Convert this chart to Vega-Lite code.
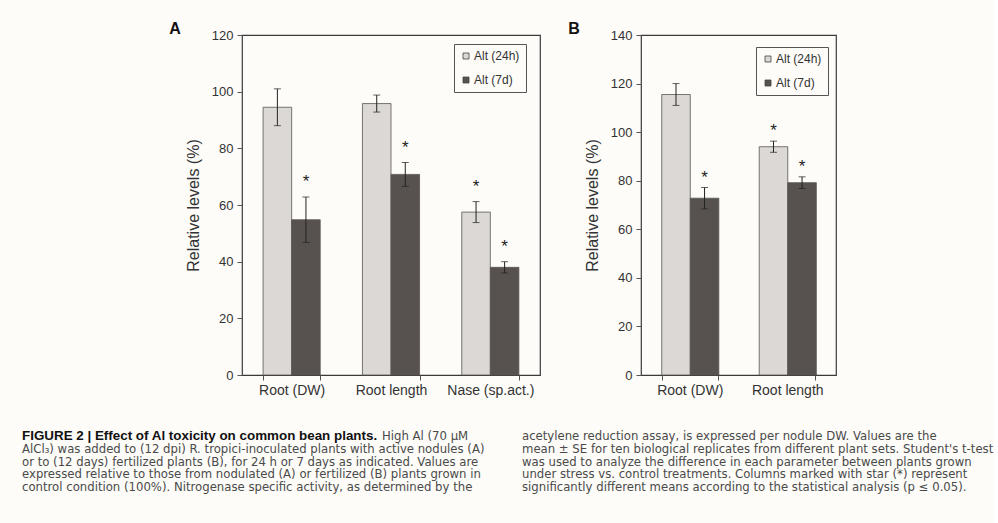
{
  "$schema": "https://vega.github.io/schema/vega-lite/v6.json",
  "background": "#fdfcf9",
  "padding": {"left": 22, "top": 20, "right": 0, "bottom": 30},
  "bounds": "flush",
  "columns": 2,
  "spacing": {"column": 101, "row": 61},
  "datasets": {
    "nodulated": [
      {"category": "Root (DW)", "series": "Alt (24h)", "value": 94.5, "lo": 88.0, "hi": 101.0, "star": ""},
      {"category": "Root (DW)", "series": "Alt (7d)", "value": 54.8, "lo": 46.8, "hi": 62.8, "star": "*"},
      {"category": "Root length", "series": "Alt (24h)", "value": 95.8, "lo": 92.8, "hi": 98.8, "star": ""},
      {"category": "Root length", "series": "Alt (7d)", "value": 70.8, "lo": 66.6, "hi": 75.0, "star": "*"},
      {"category": "Nase (sp.act.)", "series": "Alt (24h)", "value": 57.5, "lo": 53.8, "hi": 61.2, "star": "*"},
      {"category": "Nase (sp.act.)", "series": "Alt (7d)", "value": 38.0, "lo": 36.0, "hi": 40.0, "star": "*"}
    ],
    "fertilized": [
      {"category": "Root (DW)", "series": "Alt (24h)", "value": 115.5, "lo": 111.0, "hi": 120.0, "star": ""},
      {"category": "Root (DW)", "series": "Alt (7d)", "value": 72.8, "lo": 68.4, "hi": 77.2, "star": "*"},
      {"category": "Root length", "series": "Alt (24h)", "value": 94.0, "lo": 91.7, "hi": 96.3, "star": "*"},
      {"category": "Root length", "series": "Alt (7d)", "value": 79.2, "lo": 76.8, "hi": 81.6, "star": "*"}
    ],
    "caption": [
      {"col": "left", "line": 1, "part": "head", "text": "FIGURE 2 | Effect of Al toxicity on common bean plants."},
      {"col": "left", "line": 1, "part": "body", "text": "High Al (70 μM"},
      {"col": "left", "line": 2, "part": "body", "text": "AlCl₃) was added to (12 dpi) R. tropici-inoculated plants with active nodules (A)"},
      {"col": "left", "line": 3, "part": "body", "text": "or to (12 days) fertilized plants (B), for 24 h or 7 days as indicated. Values are"},
      {"col": "left", "line": 4, "part": "body", "text": "expressed relative to those from nodulated (A) or fertilized (B) plants grown in"},
      {"col": "left", "line": 5, "part": "body", "text": "control condition (100%). Nitrogenase specific activity, as determined by the"},
      {"col": "right", "line": 1, "part": "body", "text": "acetylene reduction assay, is expressed per nodule DW. Values are the"},
      {"col": "right", "line": 2, "part": "body", "text": "mean ± SE for ten biological replicates from different plant sets. Student's t-test"},
      {"col": "right", "line": 3, "part": "body", "text": "was used to analyze the difference in each parameter between plants grown"},
      {"col": "right", "line": 4, "part": "body", "text": "under stress vs. control treatments. Columns marked with star (*) represent"},
      {"col": "right", "line": 5, "part": "body", "text": "significantly different means according to the statistical analysis (p ≤ 0.05)."}
    ]
  },
  "concat": [
    {
      "title": {"text": "A", "anchor": "start", "frame": "bounds", "dx": -16, "offset": -8},
      "width": 298,
      "height": 340,
      "data": {"name": "nodulated"},
      "encoding": {
        "x": {
          "field": "category", "type": "nominal", "sort": null, "title": null,
          "scale": {"paddingInner": 0.425, "paddingOuter": 0.2125}
        },
        "xOffset": {"field": "series", "type": "nominal", "scale": {"paddingInner": 0}}
      },
      "layer": [
        {
          "mark": {"type": "bar", "stroke": "#5a5652", "strokeWidth": 0.8},
          "encoding": {
            "y": {"field": "value", "type": "quantitative", "title": "Relative levels (%)",
                  "scale": {"domain": [0, 120]}, "axis": {"values": [0, 20, 40, 60, 80, 100, 120]}},
            "color": {"field": "series", "type": "nominal", "title": null,
                      "scale": {"domain": ["Alt (24h)", "Alt (7d)"], "range": ["#dbd8d5", "#57524f"]},
                      "legend": {"orient": "none", "legendX": 212, "legendY": 9}}
          }
        },
        {
          "mark": {"type": "rule", "color": "#222", "strokeWidth": 1},
          "encoding": {"y": {"field": "lo", "type": "quantitative"}, "y2": {"field": "hi"}}
        },
        {
          "mark": {"type": "tick", "color": "#222", "size": 7, "thickness": 1},
          "encoding": {"y": {"field": "lo", "type": "quantitative"}}
        },
        {
          "mark": {"type": "tick", "color": "#222", "size": 7, "thickness": 1},
          "encoding": {"y": {"field": "hi", "type": "quantitative"}}
        },
        {
          "mark": {"type": "text", "fontSize": 17, "baseline": "alphabetic", "dy": -10, "color": "#222"},
          "encoding": {"y": {"field": "hi", "type": "quantitative"}, "text": {"field": "star"}}
        }
      ]
    },
    {
      "title": {"text": "B", "anchor": "start", "frame": "bounds", "dx": -16, "offset": -8},
      "width": 195,
      "height": 340,
      "data": {"name": "fertilized"},
      "encoding": {
        "x": {
          "field": "category", "type": "nominal", "sort": null, "title": null,
          "scale": {"paddingInner": 0.425, "paddingOuter": 0.2125}
        },
        "xOffset": {"field": "series", "type": "nominal", "scale": {"paddingInner": 0}}
      },
      "layer": [
        {
          "mark": {"type": "bar", "stroke": "#5a5652", "strokeWidth": 0.8},
          "encoding": {
            "y": {"field": "value", "type": "quantitative", "title": "Relative levels (%)",
                  "scale": {"domain": [0, 140]}, "axis": {"values": [0, 20, 40, 60, 80, 100, 120, 140]}},
            "color": {"field": "series", "type": "nominal", "title": null,
                      "scale": {"domain": ["Alt (24h)", "Alt (7d)"], "range": ["#dbd8d5", "#57524f"]},
                      "legend": {"orient": "none", "legendX": 115, "legendY": 12}}
          }
        },
        {
          "mark": {"type": "rule", "color": "#222", "strokeWidth": 1},
          "encoding": {"y": {"field": "lo", "type": "quantitative"}, "y2": {"field": "hi"}}
        },
        {
          "mark": {"type": "tick", "color": "#222", "size": 7, "thickness": 1},
          "encoding": {"y": {"field": "lo", "type": "quantitative"}}
        },
        {
          "mark": {"type": "tick", "color": "#222", "size": 7, "thickness": 1},
          "encoding": {"y": {"field": "hi", "type": "quantitative"}}
        },
        {
          "mark": {"type": "text", "fontSize": 17, "baseline": "alphabetic", "dy": -5, "color": "#222"},
          "encoding": {"y": {"field": "hi", "type": "quantitative"}, "text": {"field": "star"}}
        }
      ]
    },
    {
      "width": 298,
      "height": 51,
      "data": {"name": "caption"},
      "view": {"stroke": null},
      "encoding": {
        "x": {"field": "col", "type": "nominal", "axis": null,
              "scale": {"domain": ["left", "right"], "range": [-470, 530], "paddingInner": 0, "paddingOuter": 0}},
        "y": {"field": "line", "type": "ordinal", "axis": null,
              "scale": {"type": "point", "padding": 0}},
        "text": {"field": "text"}
      },
      "layer": [
        {
          "transform": [{"filter": "datum.part === 'head'"}],
          "mark": {"type": "text", "align": "left", "baseline": "middle", "font": "Liberation Sans", "fontSize": 13.4, "fontWeight": "bold", "color": "#111"}
        },
        {
          "transform": [{"filter": "datum.part === 'body' && datum.line === 1 && datum.col === 'left'"}],
          "mark": {"type": "text", "align": "left", "baseline": "middle", "font": "DejaVu Sans", "fontSize": 11.7, "color": "#4a4a4a", "dx": 360}
        },
        {
          "transform": [{"filter": "datum.part === 'body' && !(datum.line === 1 && datum.col === 'left')"}],
          "mark": {"type": "text", "align": "left", "baseline": "middle", "font": "DejaVu Sans", "fontSize": 11.7, "color": "#4a4a4a"}
        }
      ]
    }
  ],
  "resolve": {"scale": {"color": "independent"}, "legend": {"color": "independent"}},
  "config": {
    "font": "Liberation Sans",
    "view": {"stroke": "#3a3a3a", "strokeWidth": 1.2},
    "title": {"fontSize": 16, "fontWeight": "bold", "color": "#111"},
    "axis": {
      "grid": false, "domain": false,
      "labelFontSize": 13, "labelColor": "#333", "tickColor": "#555", "tickSize": 5,
      "titleFontSize": 16, "titleFontWeight": "normal", "titleColor": "#333"
    },
    "axisY": {"titlePadding": 10, "labelPadding": 4},
    "axisX": {"labelAngle": 0, "tickBand": "extent", "labelFontSize": 14, "labelPadding": 3},
    "legend": {
      "strokeColor": "#555", "padding": 6, "labelFontSize": 12, "labelColor": "#333",
      "symbolType": "square", "symbolSize": 36, "symbolStrokeColor": "#444", "symbolStrokeWidth": 0.8,
      "rowPadding": 12, "symbolOpacity": 1, "labelOffset": 2
    }
  }
}
